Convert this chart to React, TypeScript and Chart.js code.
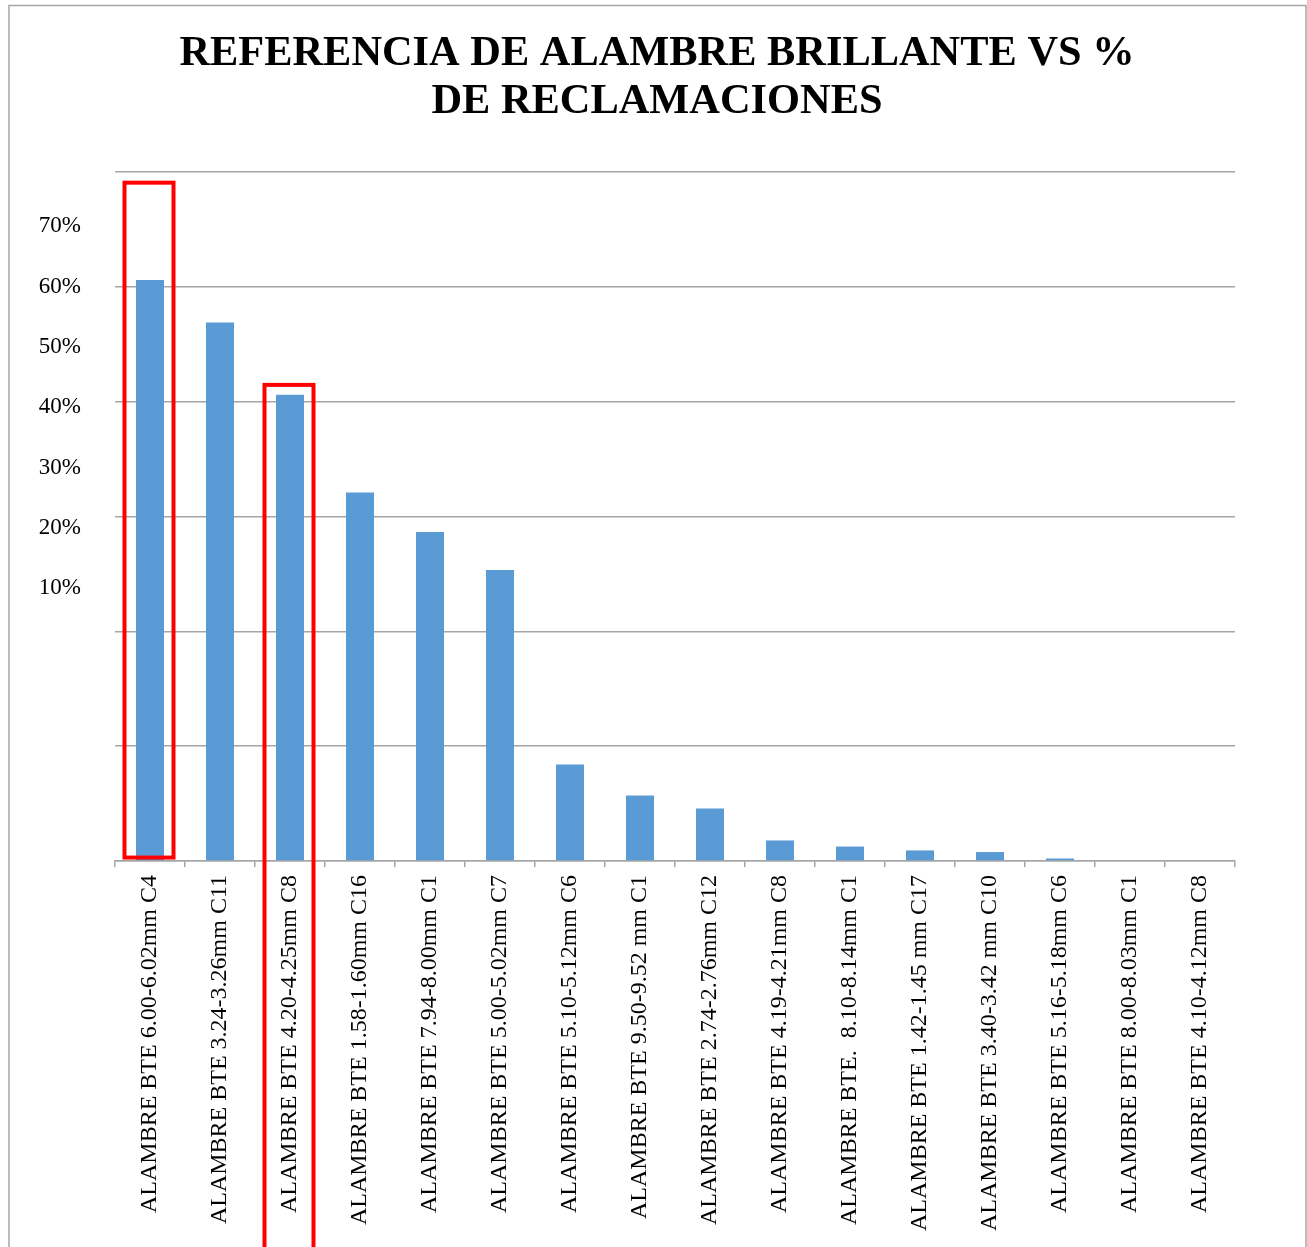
import { useEffect, useRef } from "react";
import { Chart, registerables } from "chart.js";

Chart.register(...registerables);

const titleLines = ["REFERENCIA DE ALAMBRE BRILLANTE VS %", "DE RECLAMACIONES"];

const categories = [
  "ALAMBRE BTE 6.00-6.02mm C4",
  "ALAMBRE BTE 3.24-3.26mm C11",
  "ALAMBRE BTE 4.20-4.25mm C8",
  "ALAMBRE BTE 1.58-1.60mm C16",
  "ALAMBRE BTE 7.94-8.00mm C1",
  "ALAMBRE BTE 5.00-5.02mm C7",
  "ALAMBRE BTE 5.10-5.12mm C6",
  "ALAMBRE BTE 9.50-9.52 mm C1",
  "ALAMBRE BTE 2.74-2.76mm C12",
  "ALAMBRE BTE 4.19-4.21mm C8",
  "ALAMBRE BTE.  8.10-8.14mm C1",
  "ALAMBRE BTE 1.42-1.45 mm C17",
  "ALAMBRE BTE 3.40-3.42 mm C10",
  "ALAMBRE BTE 5.16-5.18mm C6",
  "ALAMBRE BTE 8.00-8.03mm C1",
  "ALAMBRE BTE 4.10-4.12mm C8",
];

// bar values in the units of the gridded axis (0 .. 0.6)
const claimValues = [
  0.506, 0.469, 0.406, 0.321, 0.2864, 0.2533, 0.0841, 0.0571,
  0.0458, 0.0179, 0.0126, 0.0092, 0.0078, 0.0022, 0, 0,
];

const gridMin = 0;
const gridMax = 0.6;
const gridStep = 0.1;

// overlaid percent labels (not aligned with the gridlines)
const percentLabels = [10, 20, 30, 40, 50, 60, 70];
const percentAxisMin = -35.25;
const percentAxisMax = 79.0;

// red highlight boxes
const highlightIndex = [0, 2];
const highlightTop = [0.5907, 0.4146];
const highlightBottom = [0.003, -0.4];

const SERIF = "'Liberation Serif', 'Times New Roman', Times, serif";
const GRID = "#a6a6a6";

const framePlugin = {
  id: "frame",
  beforeDraw(chart: any) {
    const { ctx, width, height } = chart;
    ctx.save();
    ctx.fillStyle = "#ffffff";
    ctx.fillRect(0, 0, width, height);
    ctx.strokeStyle = "#a6a6a6";
    ctx.lineWidth = 1.5;
    ctx.strokeRect(9, 5.5, 1297, 1300);
    ctx.restore();
  },
};

const highlightPlugin = {
  id: "highlight",
  afterDatasetsDraw(chart: any) {
    const { ctx } = chart;
    const xs = chart.scales.x;
    const ys = chart.scales.y;
    const cat = xs.getPixelForValue(1) - xs.getPixelForValue(0);
    ctx.save();
    ctx.strokeStyle = "#ff0000";
    ctx.lineWidth = 4;
    highlightIndex.forEach((idx, i) => {
      const cx = xs.getPixelForValue(idx) - 1;
      const half = cat * 0.35;
      const top = ys.getPixelForValue(highlightTop[i]);
      const bottom = ys.getPixelForValue(highlightBottom[i]);
      ctx.strokeRect(cx - half, top, half * 2, bottom - top);
    });
    ctx.restore();
  },
};

export default function App() {
  const ref = useRef<HTMLCanvasElement | null>(null);

  useEffect(() => {
    if (!ref.current) return;
    const chart = new Chart(ref.current, {
      type: "bar",
      data: {
        labels: categories,
        datasets: [
          {
            data: claimValues,
            backgroundColor: "#5B9BD5",
            borderWidth: 0,
            barPercentage: 0.4,
            categoryPercentage: 1,
            yAxisID: "y",
          },
        ],
      },
      options: {
        animation: false,
        responsive: false,
        layout: { padding: { left: 7, right: 0, top: 0, bottom: 0 } },
        plugins: {
          legend: { display: false },
          tooltip: { enabled: false },
          title: {
            display: true,
            text: titleLines,
            color: "#000000",
            font: { family: SERIF, size: 42.4, weight: "bold", lineHeight: 1.132 },
            padding: { top: 30, bottom: 46 },
          },
        },
        scales: {
          x: {
            grid: {
              display: true,
              drawOnChartArea: false,
              drawTicks: true,
              tickLength: 6,
              color: GRID,
              lineWidth: 1.5,
            },
            border: { display: true, color: GRID, width: 1.5 },
            ticks: {
              autoSkip: false,
              minRotation: 90,
              maxRotation: 90,
              padding: 8,
              color: "#000000",
              font: { family: SERIF, size: 24 },
            },
            afterFit: (s: any) => {
              s.height = 386;
            },
          },
          y: {
            position: "left",
            min: gridMin,
            max: gridMax,
            ticks: { display: false, stepSize: gridStep },
            grid: { color: GRID, lineWidth: 1.5, drawTicks: false },
            border: { display: false },
            afterFit: (s: any) => {
              s.width = 0;
            },
          },
          yLabels: {
            position: "left",
            min: percentAxisMin,
            max: percentAxisMax,
            grid: { display: false },
            border: { display: false },
            ticks: {
              autoSkip: false,
              padding: 26,
              color: "#000000",
              font: { family: SERIF, size: 23 },
              callback: (v: any) => `${v}%`,
            },
            afterBuildTicks: (s: any) => {
              s.ticks = percentLabels.map((v) => ({ value: v }));
            },
            afterFit: (s: any) => {
              s.width = 108;
            },
          },
          ySpacer: {
            position: "right",
            min: 0,
            max: 1,
            grid: { display: false },
            border: { display: false },
            ticks: { display: false },
            afterFit: (s: any) => {
              s.width = 72;
            },
          },
        },
      } as any,
      plugins: [framePlugin, highlightPlugin],
    });
    return () => chart.destroy();
  }, []);

  return (
    <div style={{ position: "absolute", left: 0, top: 0, width: 1307, height: 1247, overflow: "hidden" }}>
      <canvas ref={ref} width={1307} height={1247} style={{ display: "block", width: 1307, height: 1247 }} />
    </div>
  );
}
